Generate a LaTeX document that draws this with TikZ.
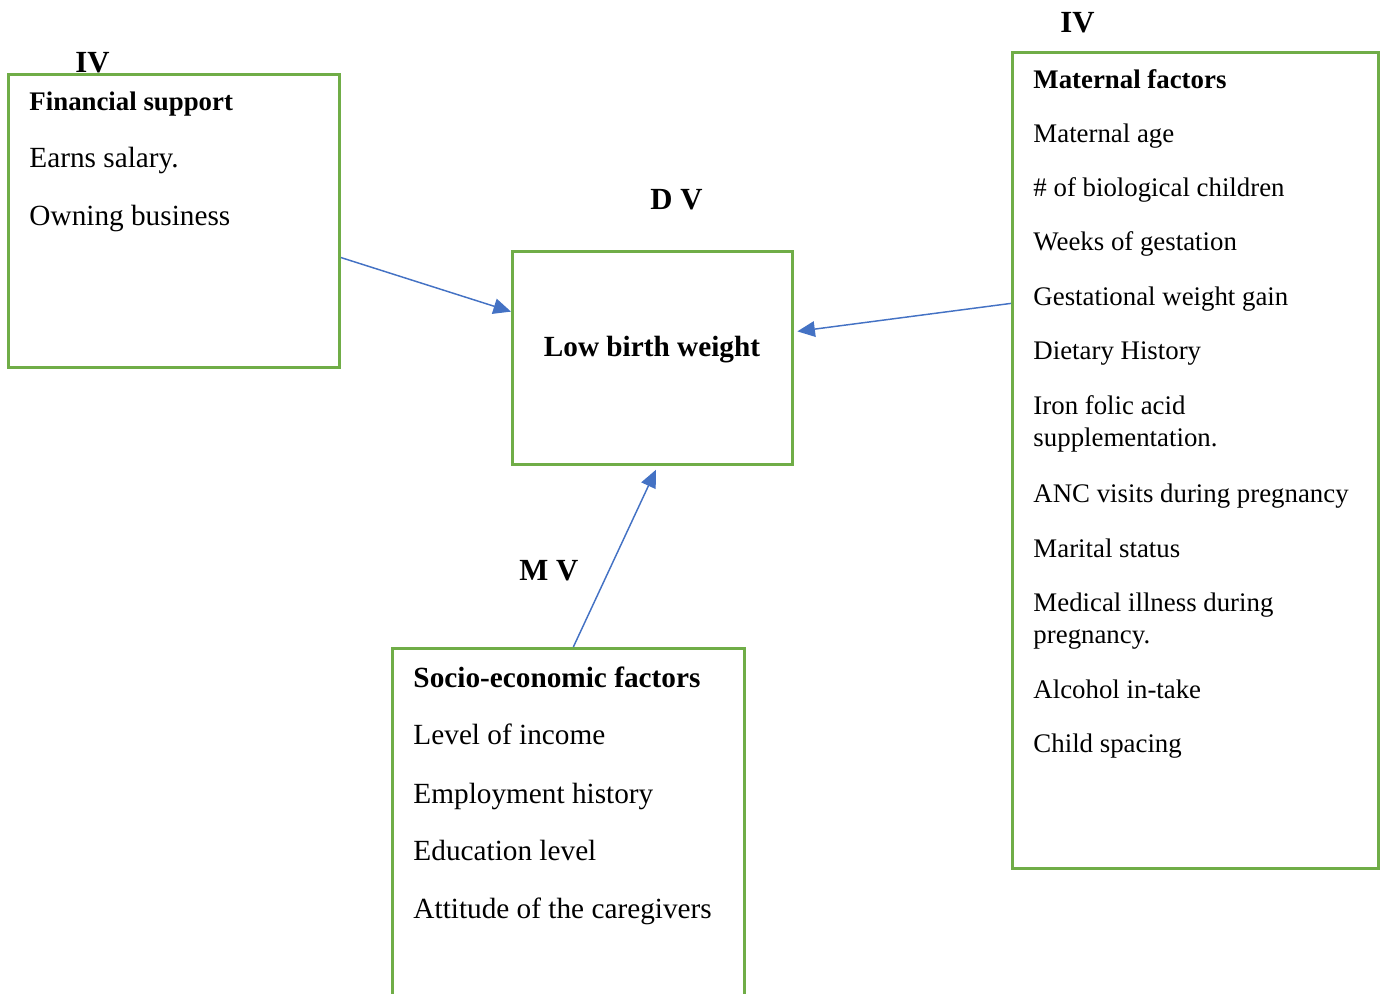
\documentclass[tikz,border=0pt]{standalone}
\usepackage{fontspec}
\setmainfont{Liberation Serif}
\usetikzlibrary{arrows.meta,positioning}
\definecolor{boxgreen}{HTML}{70AD47}
\definecolor{linkblue}{HTML}{4472C4}

\begin{document}
\begin{tikzpicture}[x=0.41pt, y=-0.41pt,
  factorbox/.style={draw=boxgreen, line width=1.2pt, anchor=north west, inner sep=0pt},
  item/.style={anchor=base west, inner sep=0pt, font=\fontsize{12}{14}\selectfont},
  smallitem/.style={item, font=\fontsize{11}{13}\selectfont},
  head/.style={item, font=\fontsize{11}{13}\selectfont\bfseries},
  bighead/.style={item, font=\fontsize{12}{14}\selectfont\bfseries},
  tag/.style={anchor=base west, inner sep=0pt, font=\fontsize{12.6}{15}\selectfont\bfseries},
  link/.style={-{Triangle[length=7.2pt,width=6.4pt]}, draw=linkblue, fill=linkblue, line width=0.6pt}
]
\useasboundingbox (0,0) rectangle (1384,994);

% boxes
\node[factorbox, minimum width=331*0.41pt, minimum height=293*0.41pt] (fin) at (7,73) {};
\node[factorbox, minimum width=280*0.41pt, minimum height=213*0.41pt] (lbw) at (511,250) {};
\node[factorbox, minimum width=366*0.41pt, minimum height=816*0.41pt] (mat) at (1011,51) {};
\node[factorbox, minimum width=352*0.41pt, minimum height=380*0.41pt] (soc) at (391,647) {};

% variable tags
\node[tag] (iv-left) at (75,73) {IV};
\node[tag] (iv-right) at (1060,33) {IV};
\node[tag] (dv) at (650,210) {D V};
\node[tag] (mv) at (519,581) {M V};

% financial support
\node[head] (fin-head) at (29,111) {Financial support};
\node[item] (fin-1) at (29,168) {Earns salary.};
\node[item] (fin-2) at (29,226) {Owning business};

% outcome
\node[inner sep=0pt, anchor=base, font=\fontsize{12}{14}\selectfont\bfseries] (lbw-text) at (652,357) {Low birth weight};

% maternal factors
\node[head] (mat-head) at (1033,89) {Maternal factors};
\foreach \y/\txt [count=\i] in {143/Maternal age, 197/\# of biological children,
  251/Weeks of gestation, 306/Gestational weight gain, 360/Dietary History,
  414/Iron folic acid, 447/supplementation., 502/ANC visits during pregnancy,
  557/Marital status, 611/Medical illness during, 644/pregnancy.,
  698/Alcohol in-take, 753/Child spacing}
  \node[smallitem] (mat-\i) at (1033,\y) {\txt};

% socio-economic factors
\node[bighead] (soc-head) at (413,687) {Socio-economic factors};
\foreach \y/\txt [count=\i] in {745/Level of income, 803/Employment history,
  860/Education level, 918/Attitude of the caregivers}
  \node[item] (soc-\i) at (413,\y) {\txt};

% links
\draw[link] ([yshift=-15pt]fin.east) -- ([yshift=19pt]lbw.west);
\draw[link] ([yshift=64.4pt]mat.west) -- ([xshift=1.4pt, yshift=10.9pt]lbw.east);
\draw[link] ([xshift=2pt]soc.north) -- ([xshift=1.4pt, yshift=-1.6pt]lbw.south);
\end{tikzpicture}
\end{document}
